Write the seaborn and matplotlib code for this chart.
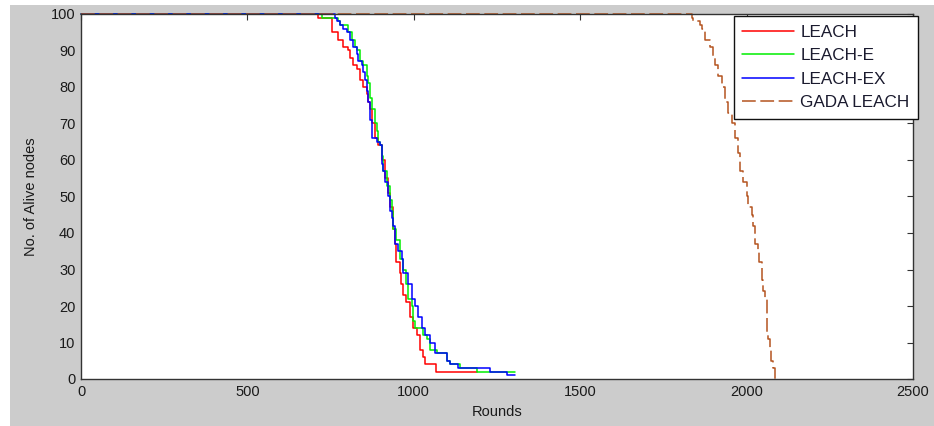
import matplotlib
matplotlib.use("Agg")
import matplotlib.pyplot as plt
import seaborn as sns
import pandas as pd
from matplotlib.patches import Rectangle

# ---- data (rounds at which alive-node count changes, and the count) ----
leach_rounds = [0, 712, 753, 773, 788, 803, 808, 818, 828, 838, 848, 858, 863, 868, 873, 883, 893, 903, 913, 923, 928,
                938, 943, 948, 958, 963, 968, 978, 988, 998, 1009, 1019, 1029, 1034, 1067, 1189]
leach_alive = [100, 99, 95, 93, 91, 90, 88, 86, 85, 82, 80, 78, 76, 74, 70, 66, 64, 60, 55, 51, 47,
               41, 37, 32, 29, 26, 23, 21, 17, 14, 12, 8, 6, 4, 2, 2]

leache_rounds = [0, 724, 773, 778, 803, 813, 823, 828, 838, 848, 858, 863, 868, 873, 883, 888, 893, 898, 903, 908, 918,
                 928, 933, 938, 948, 958, 968, 978, 983, 994, 999, 1004, 1029, 1039, 1049, 1069, 1099, 1109, 1139,
                 1189, 1304]
leache_alive = [100, 99, 98, 97, 95, 93, 91, 90, 87, 86, 83, 81, 77, 74, 70, 68, 65, 64, 61, 57, 53,
                49, 46, 41, 38, 33, 30, 26, 22, 20, 16, 14, 12, 11, 8, 7, 5, 4, 3,
                2, 2]

leachex_rounds = [0, 763, 768, 778, 788, 798, 808, 818, 828, 833, 843, 848, 853, 858, 863, 868, 873, 888, 898, 903, 908,
                  913, 923, 928, 934, 938, 943, 953, 964, 968, 983, 994, 1004, 1014, 1024, 1034, 1049, 1064, 1099,
                  1109, 1134, 1229, 1279, 1304]
leachex_alive = [100, 99, 98, 97, 96, 95, 93, 91, 89, 87, 86, 84, 82, 79, 76, 71, 66, 65, 64, 59, 57,
                 54, 50, 46, 44, 42, 37, 35, 33, 29, 26, 22, 20, 17, 14, 12, 10, 7, 5,
                 4, 3, 2, 1, 1]

gada_rounds = [0, 1835, 1840, 1860, 1865, 1875, 1890, 1900, 1905, 1915, 1925, 1935, 1945, 1955, 1965, 1975, 1980,
               1990, 2000, 2005, 2015, 2020, 2025, 2035, 2038, 2045, 2050, 2055, 2060, 2062, 2065, 2070, 2073,
               2078, 2085]
gada_alive = [100, 99, 98, 97, 96, 93, 91, 88, 86, 83, 80, 76, 73, 70, 66, 62, 57,
              54, 50, 47, 45, 42, 37, 35, 32, 27, 24, 22, 18, 13, 11, 8, 5,
              3, 0]

series_names = ["LEACH", "LEACH-E", "LEACH-EX", "GADA LEACH"]
x_ticks = [0, 500, 1000, 1500, 2000, 2500]
y_ticks = list(range(0, 101, 10))

sns.set_style("white")
plt.rcParams["font.family"] = ["Liberation Sans", "DejaVu Sans"]

fig = plt.figure(figsize=(9.34, 4.26), dpi=100, facecolor="white")
fig.patches.append(Rectangle((10 / 934, 0), 1 - 10 / 934, 1 - 5 / 426, transform=fig.transFigure,
                             facecolor="#cccccc", edgecolor="none", zorder=-10))
ax = fig.add_axes([81 / 934, 1 - 379 / 426, (913 - 81) / 934, (379 - 14) / 426])
ax.set_facecolor("white")

data = [
    (leach_rounds, leach_alive, "#ff0000", "-"),
    (leache_rounds, leache_alive, "#00ee00", "-"),
    (leachex_rounds, leachex_alive, "#0000ff", "-"),
    (gada_rounds, gada_alive, "#b4531f", "--"),
]
for name, (r, a, c, ls) in zip(series_names, data):
    df = pd.DataFrame({"Rounds": r, "Alive": a})
    kw = dict(drawstyle="steps-post")
    if ls == "--":
        kw["dashes"] = (9, 3)
    sns.lineplot(data=df, x="Rounds", y="Alive", ax=ax, color=c, linewidth=1.1, label=name,
                 estimator=None, sort=False, clip_on=False, **kw)

ax.set_xlim(0, 2500)
ax.set_ylim(0, 100)
ax.set_xticks(x_ticks)
ax.set_yticks(y_ticks)
ax.tick_params(direction="in", length=4, width=0.8, top=True, right=True, labelsize=10.5, pad=4)
ax.tick_params(axis="both", colors="#333333", labelcolor="#1a1a1a")
for s in ax.spines.values():
    s.set_visible(True)
    s.set_color("#333333")
    s.set_linewidth(1.0)

ax.set_xlabel("Rounds", fontsize=10.5, color="#1a1a1a", labelpad=5)
ax.set_ylabel("No. of Alive nodes", fontsize=10.5, color="#1a1a1a", labelpad=9)

handles, labels = ax.get_legend_handles_labels()
leg = ax.legend(handles, labels, loc="upper right", bbox_to_anchor=(918 / 934, 1 - 16 / 426),
                bbox_transform=fig.transFigure, borderaxespad=0, fancybox=False, framealpha=1,
                edgecolor="#111111", fontsize=12.3, handlelength=3.05, handletextpad=0.35,
                labelspacing=0.5, borderpad=0.5)
leg.get_frame().set_linewidth(1.0)
for t in leg.get_texts():
    t.set_color("#1a1a2e")

fig.savefig("out.png", dpi=100, facecolor=fig.get_facecolor())
